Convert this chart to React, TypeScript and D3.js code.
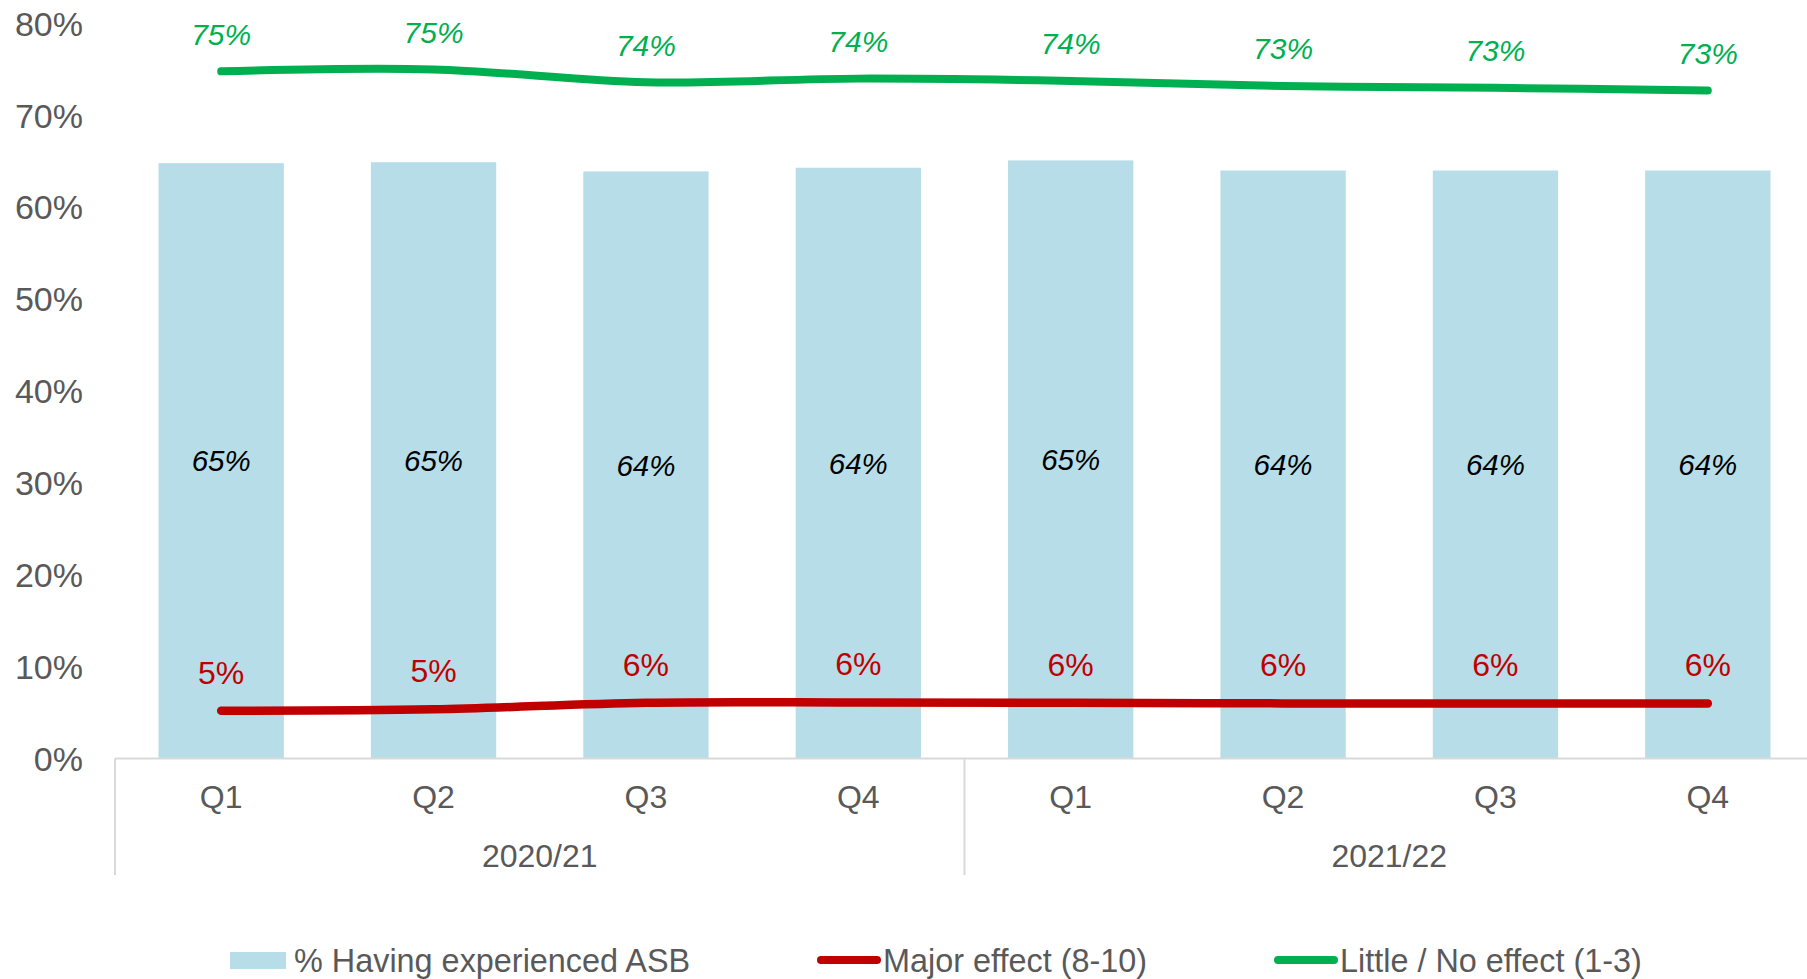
import React from "react";
import * as d3 from "d3";

const quarters = ["Q1", "Q2", "Q3", "Q4", "Q1", "Q2", "Q3", "Q4"];
const years = ["2020/21", "2021/22"];
const asbValues = [64.8, 64.9, 63.9, 64.3, 65.1, 64.0, 64.0, 64.0];
const majorValues = [5.2, 5.35, 6.07, 6.1, 6.07, 6.0, 6.0, 6.0];
const littleValues = [74.8, 75.0, 73.6, 74.0, 73.75, 73.2, 73.0, 72.7];
const yTicks = [0, 10, 20, 30, 40, 50, 60, 70, 80];
const legendLabels = ["% Having experienced ASB", "Major effect (8-10)", "Little / No effect (1-3)"];

const W = 1807;
const H = 979;
const FONT = "'Liberation Sans', Arial, sans-serif";
const GRAY = "#595959";
const BAR = "#B7DDE8";
const RED = "#C00000";
const GREEN = "#00B050";
const AXIS = "#D9D9D9";

export default function App() {
  const idx = quarters.map((_, i) => i);
  const x = d3.scaleBand<number>().domain(idx).range([115, 1814]).paddingInner(0.41).paddingOuter(0.205);
  const y = d3.scaleLinear().domain([0, 80]).range([758.5, 23.5]);
  const cx = (i: number) => (x(i) as number) + x.bandwidth() / 2;
  const line = d3
    .line<number>()
    .x((_, i) => cx(i))
    .y((d) => y(d))
    .curve(d3.curveCatmullRom.alpha(0.5));
  const fmt = (v: number) => `${Math.round(v)}%`;
  const step = x.step();
  const groupStart = (g: number) => (x(g * 4) as number) - step * 0.205;
  const sepXs = [groupStart(0), groupStart(1), groupStart(1) + step * 4];
  const axisY = y(0);

  return (
    <svg
      width={W}
      height={H}
      style={{ position: "absolute", left: 0, top: 0, background: "#fff" }}
      fontFamily={FONT}
    >
      <rect x={0} y={0} width={W} height={H} fill="#fff" />
      {yTicks.map((t) => (
        <text key={t} x={83} y={y(t)} dy="0.36em" textAnchor="end" fontSize={34} fill={GRAY}>
          {t}%
        </text>
      ))}
      {asbValues.map((v, i) => (
        <rect key={i} x={x(i)} y={y(v)} width={x.bandwidth()} height={axisY - y(v)} fill={BAR} />
      ))}
      {asbValues.map((v, i) => (
        <text
          key={i}
          x={cx(i)}
          y={(y(v) + axisY) / 2}
          dy="0.36em"
          textAnchor="middle"
          fontSize={29.5}
          fontStyle="italic"
          fill="#000"
        >
          {fmt(v)}
        </text>
      ))}
      <line x1={sepXs[0]} x2={W + 20} y1={axisY} y2={axisY} stroke={AXIS} strokeWidth={2} />
      {sepXs.map((sx, i) => (
        <line key={i} x1={sx} x2={sx} y1={axisY} y2={875} stroke={AXIS} strokeWidth={2} />
      ))}
      {quarters.map((q, i) => (
        <text key={i} x={cx(i)} y={796.5} dy="0.36em" textAnchor="middle" fontSize={32} fill={GRAY}>
          {q}
        </text>
      ))}
      {years.map((yr, g) => (
        <text
          key={yr}
          x={groupStart(g) + step * 2}
          y={855.5}
          dy="0.36em"
          textAnchor="middle"
          fontSize={32}
          fill={GRAY}
        >
          {yr}
        </text>
      ))}
      <path d={line(majorValues) || ""} fill="none" stroke={RED} strokeWidth={8.5} strokeLinecap="round" />
      <path d={line(littleValues) || ""} fill="none" stroke={GREEN} strokeWidth={8} strokeLinecap="round" />
      {majorValues.map((v, i) => (
        <text key={i} x={cx(i)} y={y(v) - 38.5} dy="0.36em" textAnchor="middle" fontSize={32} fill={RED}>
          {fmt(v)}
        </text>
      ))}
      {littleValues.map((v, i) => (
        <text
          key={i}
          x={cx(i)}
          y={y(v) - 37.5}
          dy="0.36em"
          textAnchor="middle"
          fontSize={30}
          fontStyle="italic"
          fill={GREEN}
        >
          {fmt(v)}
        </text>
      ))}
      <rect x={230} y={952} width={56} height={17} fill={BAR} />
      <text x={294} y={960.5} dy="0.36em" fontSize={32.4} fill={GRAY}>
        {legendLabels[0]}
      </text>
      <line x1={821} x2={877} y1={960} y2={960} stroke={RED} strokeWidth={8} strokeLinecap="round" />
      <text x={883} y={960.5} dy="0.36em" fontSize={32.4} fill={GRAY}>
        {legendLabels[1]}
      </text>
      <line x1={1278} x2={1334} y1={960} y2={960} stroke={GREEN} strokeWidth={8} strokeLinecap="round" />
      <text x={1340} y={960.5} dy="0.36em" fontSize={32.4} fill={GRAY}>
        {legendLabels[2]}
      </text>
    </svg>
  );
}
